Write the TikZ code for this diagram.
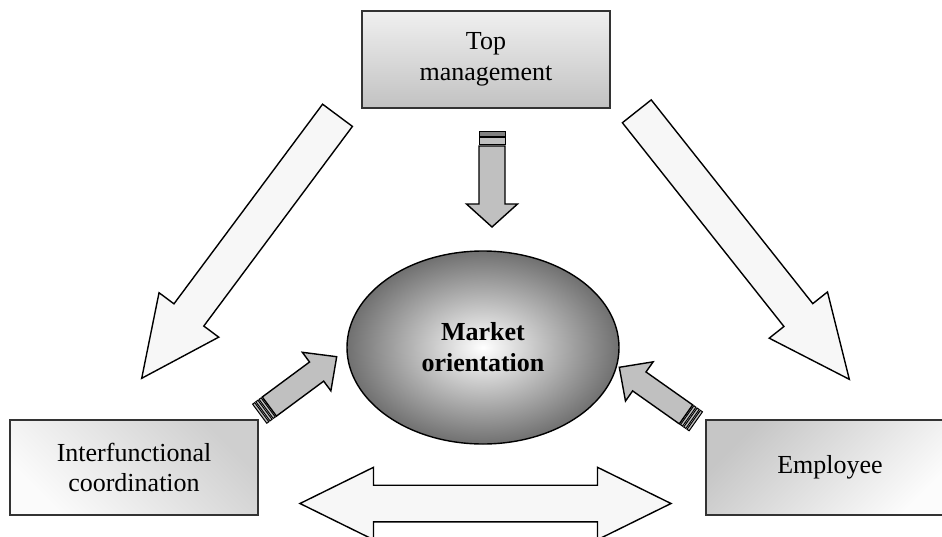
\documentclass[tikz,border=0pt]{standalone}
\usepackage{fontspec}
\setmainfont{Liberation Serif}
\usetikzlibrary{calc,shapes.geometric}

\definecolor{arrowfill}{HTML}{F7F7F7}
\definecolor{silverfill}{HTML}{C0C0C0}
\definecolor{stripedark}{HTML}{808080}

% Block arrow from tail #1 to tip #2: half shaft width #3, half head width #4,
% head length #5, draw style #6
\newcommand\blockarrow[6]{%
  \path ($(#2)!#5!(#1)$) coordinate (hb);
  \draw[#6] ($(#1)!#3!90:(#2)$) -- ($(hb)!#3!90:(#2)$) -- ($(hb)!#4!90:(#2)$) -- (#2)
    -- ($(hb)!#4!-90:(#2)$) -- ($(hb)!#3!-90:(#2)$) -- ($(#1)!#3!-90:(#2)$) -- cycle;}

% Two-headed block arrow between #1 and #2
\newcommand\doubleblockarrow[6]{%
  \path ($(#1)!#5!(#2)$) coordinate (ha) ($(#2)!#5!(#1)$) coordinate (hb);
  \draw[#6] (#1) -- ($(ha)!#4!90:(#2)$) -- ($(ha)!#3!90:(#2)$) -- ($(hb)!#3!-90:(#1)$)
    -- ($(hb)!#4!-90:(#1)$) -- (#2) -- ($(hb)!#4!90:(#1)$) -- ($(hb)!#3!90:(#1)$)
    -- ($(ha)!#3!-90:(#2)$) -- ($(ha)!#4!-90:(#2)$) -- cycle;}

% Band across an arrow's tail: along the axis #1 -> #2, from distance #3 to #4,
% half width #5, style #6
\newcommand\tailband[6]{%
  \path ($(#1)!#3!(#2)$) coordinate (ba) ($(#1)!#4!(#2)$) coordinate (bb);
  \draw[#6] ($(ba)!#5!90:(#2)$) -- ($(bb)!#5!90:(#2)$) -- ($(bb)!#5!-90:(#2)$)
    -- ($(ba)!#5!-90:(#2)$) -- cycle;}

\tikzset{
  box/.style={rectangle, draw=black!80, line width=1.9pt, minimum width=248pt,
    inner sep=0pt, align=center, font=\fontsize{26}{30.5}\selectfont},
  bigarrow/.style={draw=black, line width=1.4pt, fill=arrowfill, line join=miter},
  smallarrow/.style={draw=black, line width=1.4pt, fill=silverfill, line join=miter},
  lightband/.style={draw=black, line width=1pt, fill=silverfill},
  darkband/.style={draw=black, line width=1pt, fill=stripedark},
}

\begin{document}
\begin{tikzpicture}[x=1pt, y=-1pt]
  \useasboundingbox (0,0) rectangle (942,536);
  \clip (0,0) rectangle (942,536);

  % Actors
  \node[box, minimum height=97pt, top color=gray!12, bottom color=gray!48]
    (top) at (486,59.5) {Top\\management};
  \node[box, minimum height=95pt, shading=axis, top color=gray!38, bottom color=gray!3,
    shading angle=-45] (inter) at (134,467.5) {Interfunctional\\coordination};
  \node[box, minimum height=95pt, shading=axis, top color=gray!45, bottom color=gray!2,
    shading angle=45] (empl) at (830,467.5) {Employee};

  % Centre
  \node[ellipse, draw=black, line width=1.4pt, minimum width=272pt, minimum height=193pt,
    inner sep=0pt, inner color=white, outer color=gray!88!black, align=center,
    font=\fontsize{26}{31}\selectfont\bfseries] (mo) at (483,347.5) {Market\\orientation};

  % Large arrows from top management to the two lower actors
  \coordinate (lt) at (337.5,115.3);
  \coordinate (lh) at (141.7,378.3);
  \blockarrow{lt}{lh}{18.6pt}{37.2pt}{79pt}{bigarrow}
  \coordinate (rt) at (636.8,111.3);
  \coordinate (rh) at (849.3,379.3);
  \blockarrow{rt}{rh}{18.4pt}{37.2pt}{82pt}{bigarrow}

  % Arrow from top management into the centre
  \coordinate (tt) at (492,130);
  \coordinate (th) at (492,227);
  \tailband{tt}{th}{1pt}{6pt}{13pt}{darkband}
  \tailband{tt}{th}{7.5pt}{14.5pt}{13pt}{lightband}
  \coordinate (ts) at (492,146);
  \blockarrow{ts}{th}{13pt}{25.5pt}{23pt}{smallarrow}

  % Arrow from interfunctional coordination into the centre
  \coordinate (at) at (259.7,413.7);
  \coordinate (ah) at (336.7,356.7);
  \tailband{at}{ah}{0pt}{2.6pt}{11.9pt}{lightband}
  \tailband{at}{ah}{4pt}{6.6pt}{11.9pt}{lightband}
  \tailband{at}{ah}{8pt}{10.6pt}{11.9pt}{lightband}
  \coordinate (as) at ($(at)!12pt!(ah)$);
  \blockarrow{as}{ah}{11.9pt}{24pt}{25pt}{smallarrow}

  % Arrow from employee into the centre
  \coordinate (et) at (695.8,421.3);
  \coordinate (eh) at (619.3,367.3);
  \tailband{et}{eh}{0pt}{2.6pt}{11.6pt}{lightband}
  \tailband{et}{eh}{4pt}{6.6pt}{11.6pt}{lightband}
  \tailband{et}{eh}{8pt}{10.6pt}{11.6pt}{lightband}
  \coordinate (es) at ($(et)!12pt!(eh)$);
  \blockarrow{es}{eh}{11.6pt}{24pt}{24.5pt}{smallarrow}

  % Two-way arrow between the lower actors
  \coordinate (dl) at (300,503.5);
  \coordinate (dr) at (671,503.5);
  \doubleblockarrow{dl}{dr}{18.3pt}{36.2pt}{73.5pt}{bigarrow}
\end{tikzpicture}
\end{document}
